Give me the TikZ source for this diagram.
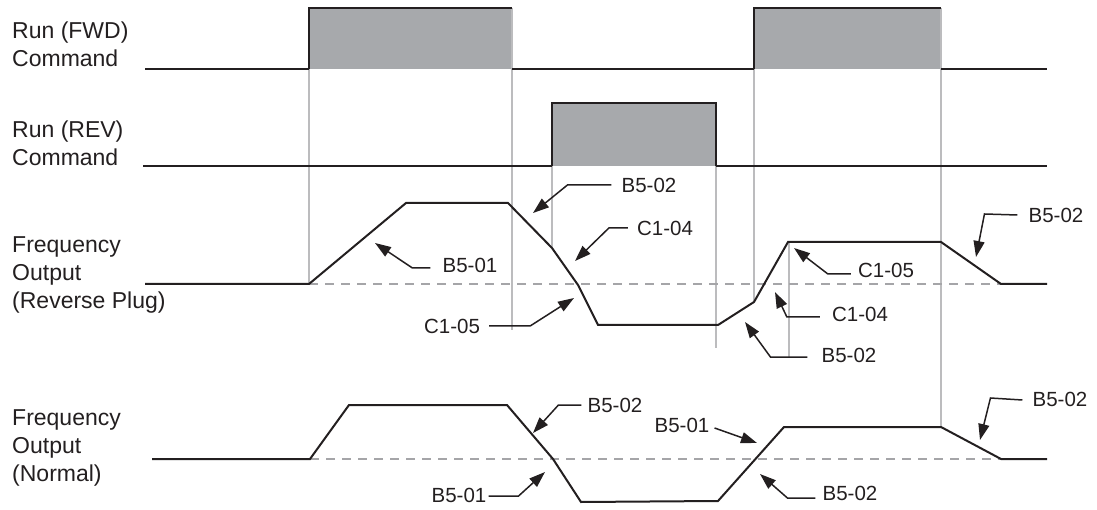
\documentclass[tikz,border=0pt]{standalone}
\usepackage{fontspec}
\setmainfont{Liberation Sans}
\usetikzlibrary{arrows.meta}
\definecolor{pulsefill}{RGB}{167,169,172}
\definecolor{guide}{RGB}{188,188,190}
\definecolor{zerocol}{RGB}{165,165,168}
\definecolor{ink}{RGB}{35,31,32}
\begin{document}
\begin{tikzpicture}[x=1pt,y=-1pt,
  sig/.style={ink,line width=2pt,line join=miter},
  edge/.style={ink,line width=1.3pt},
  guideline/.style={guide,line width=1.5pt},
  zeroline/.style={zerocol,line width=1.6pt,dash pattern=on 9pt off 7pt},
  lead/.style={ink,line width=1.5pt,line join=miter,-{Triangle[length=16pt,width=11pt]}},
  lbl/.style={font=\fontsize{20.5}{24}\selectfont,inner sep=0pt,text=ink},
  side/.style={font=\fontsize{23}{28}\selectfont,inner sep=0pt,anchor=base west,text=ink}]
\useasboundingbox (0,0) rectangle (1097,510);

% ---- side labels
\node[side] (fwd) at (12,39) {\begin{tabular}[t]{@{}l@{}}Run (FWD)\\Command\end{tabular}};
\node[side] (rev) at (12,138) {\begin{tabular}[t]{@{}l@{}}Run (REV)\\Command\end{tabular}};
\node[side] (frp) at (12,253) {\begin{tabular}[t]{@{}l@{}}Frequency\\Output\\(Reverse Plug)\end{tabular}};
\node[side] (fno) at (12,425) {\begin{tabular}[t]{@{}l@{}}Frequency\\Output\\(Normal)\end{tabular}};

% ---- pulses
\fill[pulsefill] (309,8) rectangle (512,69);
\fill[pulsefill] (754,8) rectangle (941,69);
\fill[pulsefill] (552,103) rectangle (716,166);

% ---- guide lines
\draw[guideline] (309,69) -- (309,284);
\draw[guideline] (512,8) -- (512,330);
\draw[guideline] (552,166) -- (552,248);
\draw[guideline] (716,166) -- (716,348);
\draw[guideline] (754,69) -- (754,302);
\draw[guideline] (789,242) -- (789,357);
\draw[guideline] (941,8) -- (941,427);

% ---- zero lines
\draw[zeroline] (309,284) -- (1001,284);
\draw[zeroline] (310,459) -- (1001,459);

% ---- command signals
\draw[sig] (145,69) -- (309,69);
\draw[edge] (309,69) -- (309,8) -- (512,8);
\draw[sig] (512,69) -- (754,69);
\draw[edge] (754,69) -- (754,8) -- (941,8);
\draw[sig] (941,69) -- (1047,69);
\draw[sig] (143,166) -- (552,166);
\draw[edge] (552,166) -- (552,103) -- (716,103) -- (716,166);
\draw[sig] (716,166) -- (1047,166);

% ---- frequency output (reverse plug)
\draw[sig] (145,284) -- (309,284) -- (406,203) -- (508,203) -- (552,248)
  -- (578,285) -- (598,325) -- (718,325) -- (754,302) -- (788,242)
  -- (941,242) -- (1001,284) -- (1047,284);

% ---- frequency output (normal)
\draw[sig] (152,459) -- (310,459) -- (349,405) -- (507,405) -- (553,459)
  -- (581,502) -- (718,501) -- (784,427) -- (941,427) -- (1001,459) -- (1047,459);

% ---- arrow tips
\coordinate (t1) at (533,213);
\coordinate (t2) at (575,261);
\coordinate (t3) at (375,243);
\coordinate (t4) at (574,298);
\coordinate (t5) at (976,257);
\coordinate (t6) at (794,248);
\coordinate (t7) at (775,292);
\coordinate (t8) at (745,322);
\coordinate (n1t) at (533,433);
\coordinate (n2t) at (757,443);
\coordinate (n3t) at (545,472);
\coordinate (n4t) at (760,474);
\coordinate (n5t) at (980,440);

% ---- labels (reverse plug)
\node[lbl] (l1) at (649,185) {B5-02};
\node[lbl] (l2) at (665,228) {C1-04};
\node[lbl] (l3) at (470,265) {B5-01};
\node[lbl] (l4) at (452,326) {C1-05};
\node[lbl] (l5) at (1056,215) {B5-02};
\node[lbl] (l6) at (886,270) {C1-05};
\node[lbl] (l7) at (860,314) {C1-04};
\node[lbl] (l8) at (849,355) {B5-02};
\draw[lead] ([xshift=-10pt]l1.west) -- ++(-44,0) -- (t1);
\draw[lead] ([xshift=-9pt]l2.west) -- ++(-19,0) -- (t2);
\draw[lead] ([xshift=-12pt,yshift=-3pt]l3.west) -- ++(-18,0) -- (t3);
\draw[lead] ([xshift=9pt]l4.east) -- ++(41,0) -- (t4);
\draw[lead] ([xshift=-11pt]l5.west) -- ++(-33,-1) -- (t5);
\draw[lead] ([xshift=-7pt,yshift=-4pt]l6.west) -- ++(-23,0) -- (t6);
\draw[lead] ([xshift=-12pt,yshift=-3pt]l7.west) -- ++(-33,0) -- (t7);
\draw[lead] ([xshift=-14pt,yshift=-2pt]l8.west) -- ++(-37,0) -- (t8);

% ---- labels (normal)
\node[lbl] (n1) at (615,405) {B5-02};
\node[lbl] (n2) at (682,425) {B5-01};
\node[lbl] (n3) at (459,495) {B5-01};
\node[lbl] (n4) at (850,493) {B5-02};
\node[lbl] (n5) at (1060,399) {B5-02};
\draw[lead] ([xshift=-6pt]n1.west) -- ++(-23,0) -- (n1t);
\draw[lead] ([xshift=5pt,yshift=-3pt]n2.east) -- (n2t);
\draw[lead] ([xshift=2pt,yshift=-1pt]n3.east) -- ++(30,0) -- (n3t);
\draw[lead] ([xshift=-7pt,yshift=-5pt]n4.west) -- ++(-28,0) -- (n4t);
\draw[lead] ([xshift=-10pt,yshift=-1pt]n5.west) -- ++(-32,-2) -- (n5t);
\end{tikzpicture}
\end{document}
